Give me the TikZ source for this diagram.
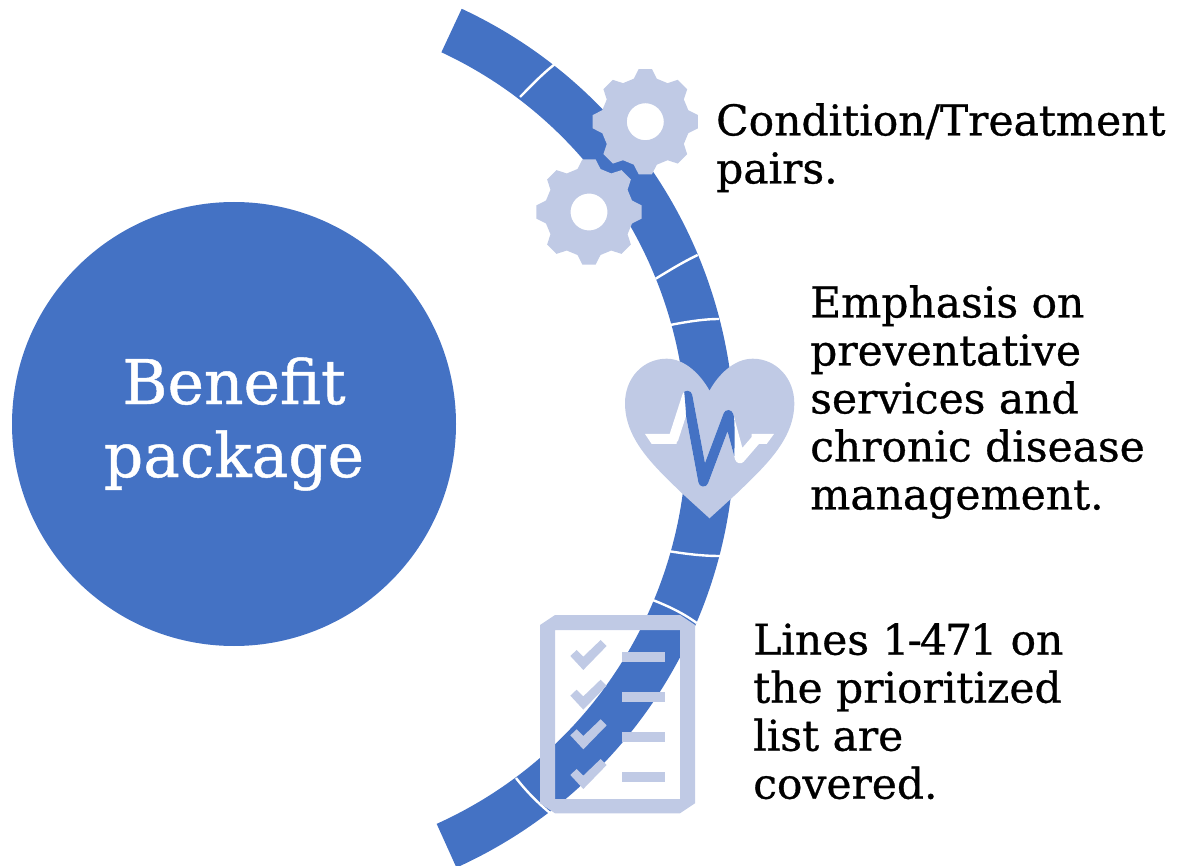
\documentclass[tikz,border=0pt]{standalone}
\usepackage{fontspec}
\setmainfont[FakeBold=0.7]{DejaVu Serif}
\newfontfamily\bodyfont[FakeBold=0.7]{DejaVu Serif}
\definecolor{ringblue}{HTML}{4472C4}
\definecolor{iconblue}{HTML}{C0CAE5}
\tikzset{
  bodytext/.style={font=\bodyfont\fontsize{42.4}{48}\selectfont,align=left,anchor=north west,inner sep=0pt,text=black},
  sep/.style={draw=white,line width=2.4pt},
  iconfill/.style={fill=iconblue,draw=none}
}
\newcommand{\ringshape}{(262,437) ++(65:472.5pt) arc[start angle=65,end angle=-65.7,radius=472.5pt] -- ([shift={(-65.7:424.5pt)}]262,437) arc[start angle=-65.7,end angle=65,radius=424.5pt] -- cycle}
\newcommand{\gearat}[2]{%
  \fill[iconfill,even odd rule] ([shift={(-15:44.5pt)}]#1,#2)
    foreach \a in {0,45,...,315} {
      -- ([shift={(\a-15:44.5pt)}]#1,#2)
      -- ([shift={(\a-7.2:53pt)}]#1,#2)
      -- ([shift={(\a+7.2:53pt)}]#1,#2)
      -- ([shift={(\a+15:44.5pt)}]#1,#2)
    } -- cycle (#1,#2) circle[radius=18.5pt];}
\newcommand{\checkat}[1]{%
  \fill[iconfill] (421,228+#1) -- (440,210+#1) -- (460,230+#1) -- (512,180+#1) -- (530,198+#1) -- (460,270+#1) -- cycle;}
\begin{document}
\begin{tikzpicture}[x=1pt,y=-1pt]
\useasboundingbox (0,0) rectangle (1178,866);
% ring
\fill[ringblue] \ringshape;
\draw[sep] (555,64) .. controls (541,75) and (531,86) .. (520,97);
\draw[sep] (697.7,255) .. controls (683,262) and (670,270) .. (655.7,278.7);
\draw[sep] (719,319) .. controls (703,319) and (686,322) .. (670,325);
\draw[sep] (720,556) .. controls (703,556) and (686,554) .. (668,551);
\draw[sep] (696.7,623) .. controls (683,613) and (668,606) .. (652.7,600);
\draw[sep] (516,778) .. controls (526,791) and (538,803) .. (550,813);
% big circle
\node[circle,fill=ringblue,minimum size=444pt,inner sep=0pt] (hub) at (234,424) {};
\node[font=\fontsize{61.5}{73}\selectfont,text=white,align=center,inner sep=0pt] (hubtext) at (234,424) {Benefit\\package};
% gears
\gearat{645.3}{121.7}
\gearat{589}{212}
% heart
\fill[iconfill] (709.5,518.3) -- (681.7,493) .. controls (655,467) and (625,440) .. (625,403.3)
  .. controls (625,378) and (643,358.7) .. (666.7,358.7)
  .. controls (685,358.7) and (701,375) .. (709.5,390.7)
  .. controls (718,375) and (734,358.7) .. (752.7,358.7)
  .. controls (776,358.7) and (794.3,378) .. (794.3,403.3)
  .. controls (794.3,440) and (764,467) .. (737.3,493) -- cycle;
\begin{scope}[shift={(610,300)},x=0.3333pt,y=-0.3333pt]
  \fill[white] (105,402) -- (125,432) -- (200,432) -- (200,402) -- cycle;
  \fill[white] (492,402) -- (470,432) -- (425,432) -- (425,402) -- cycle;
  \draw[white,line width=10pt,line join=round,line cap=round] (190,417) -- (232,287) -- (280,545) -- (355,345) -- (390,475) -- (440,417);
\end{scope}
\begin{scope}
  \clip \ringshape;
  \begin{scope}[shift={(610,300)},x=0.3333pt,y=-0.3333pt]
    \draw[ringblue,line width=10pt,line join=round,line cap=round] (190,417) -- (232,287) -- (280,545) -- (355,345) -- (390,475) -- (440,417);
  \end{scope}
\end{scope}
% checklist
\fill[iconfill,even odd rule] (555,615) -- (680,615) -- (695,625) -- (695,803.3) -- (680,813.3) -- (555,813.3) -- (540,803.3) -- (540,625) -- cycle
  (555,630) rectangle (680,799);
\fill[iconfill] (622,652) rectangle (665,662);
\fill[iconfill] (622,692) rectangle (665,702);
\fill[iconfill] (622,732) rectangle (665,742);
\fill[iconfill] (622,772) rectangle (665,782);
\begin{scope}[shift={(430,580)},x=0.3333pt,y=-0.3333pt]
  \checkat{0}\checkat{119}\checkat{238}\checkat{357}
\end{scope}
% text
\node[bodytext] (t1) at (716,103) {Condition/Treatment\\pairs.};
\node[bodytext] (t2) at (810,285) {Emphasis on\\preventative\\services and\\chronic disease\\management.};
\node[bodytext] (t3) at (753,623) {Lines {\addfontfeature{LetterSpace=-4.5}1-471} on\\the prioritized\\list are\\covered.};
\end{tikzpicture}
\end{document}
